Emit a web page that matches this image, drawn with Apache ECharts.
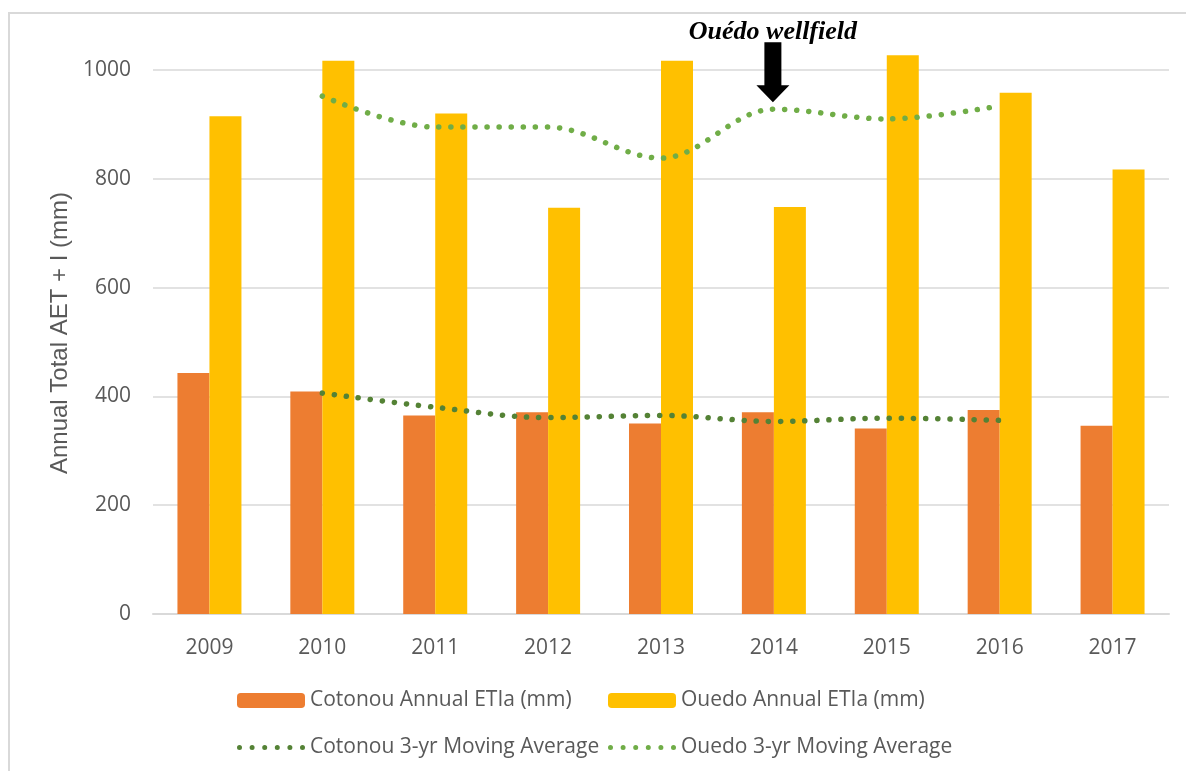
<!DOCTYPE html>
<html>
<head>
<meta charset="utf-8">
<script src="https://cdn.jsdelivr.net/npm/echarts@6/dist/echarts.min.js"></script>
<style>
    html, body { margin: 0; padding: 0; background: #fff; }
    #chart { width: 1186px; height: 771px; }
</style>
</head>
<body>
<div id="chart"></div>
<script type="text/javascript">
    // 数据
    var years = ['2009', '2010', '2011', '2012', '2013', '2014', '2015', '2016', '2017'];
    var cotonouEt = [443, 409, 365, 371, 350, 371, 341, 375, 346];
    var ouedoEt = [915, 1017, 920, 747, 1017, 748, 1027, 958, 817];
    var cotonouAvg = ['-', 406, 380, 361, 365, 354, 360, 356, '-'];
    var ouedoAvg = ['-', 952, 895, 895, 838, 928, 910, 934, '-'];
    var yTicks = [0, 200, 400, 600, 800, 1000];

    var names = ['Cotonou Annual ETIa (mm)', 'Ouedo Annual ETIa (mm)',
        'Cotonou 3-yr Moving Average', 'Ouedo 3-yr Moving Average'];
    var gray = '#595959';
    var dots = {type: [0.1, 12], cap: 'round', width: 5.5};

    // 图例里的点线图标
    var dotIcon = 'path://';
    for (var i = 0; i < 6; i++) {
        var cx = 2.5 + 12.6 * i;
        dotIcon += 'M' + (cx - 2.5) + ',7.5 a2.5,2.5 0 1,0 5,0 a2.5,2.5 0 1,0 -5,0 ';
    }

    function oneLegend(name, left, top, icon) {
        var item = {name: name};
        if (icon) item.icon = icon;
        return {
            data: [item], left: left, top: top, padding: 0,
            itemWidth: 68, itemHeight: 15, itemTextGap: 7,
            selectedMode: false,
            textStyle: {fontFamily: 'Open Sans', fontSize: 21, color: gray}
        };
    }

    var myChart = echarts.init(document.getElementById('chart'));
    var option = {
        animation: false,
        textStyle: {fontFamily: 'Open Sans'},
        graphic: [{
            type: 'rect', silent: true,
            shape: {x: 9, y: 13, width: 1200, height: 800},
            style: {fill: 'none', stroke: '#d9d9d9', lineWidth: 2}
        }],
        grid: {left: 153, right: 17, top: 70, bottom: 157},
        legend: [
            oneLegend(names[0], 237, 690),
            oneLegend(names[1], 608, 690),
            oneLegend(names[2], 237, 737, dotIcon),
            oneLegend(names[3], 608, 737, dotIcon)
        ],
        xAxis: {
            type: 'category',
            data: years,
            axisLine: {lineStyle: {color: '#d9d9d9', width: 2}},
            axisTick: {show: false},
            axisLabel: {color: gray, fontSize: 21, margin: 24}
        },
        yAxis: {
            type: 'value',
            min: yTicks[0],
            max: yTicks[yTicks.length - 1],
            interval: 200,
            name: 'Annual Total AET + I (mm)',
            nameLocation: 'middle',
            nameGap: 67,
            nameTextStyle: {fontFamily: 'Liberation Sans', fontSize: 24, color: gray, padding: [0, 0, 0, 18]},
            axisLine: {show: false},
            axisTick: {show: false},
            axisLabel: {color: gray, fontSize: 21, margin: 22, formatter: function (v) { return String(v); }},
            splitLine: {lineStyle: {color: '#d9d9d9', width: 1.5}}
        },
        series: [
            {
                name: names[0], type: 'bar', data: cotonouEt,
                barWidth: 32, barGap: '0%', clip: false,
                itemStyle: {color: '#ED7D31'}
            },
            {
                name: names[1], type: 'bar', data: ouedoEt,
                barWidth: 32, barGap: '0%', clip: false,
                itemStyle: {color: '#FFC000'}
            },
            {
                name: names[2], type: 'line', data: cotonouAvg,
                smooth: 0.35, symbol: 'none', itemStyle: {color: '#548235'},
                lineStyle: Object.assign({color: '#548235'}, dots)
            },
            {
                name: names[3], type: 'line', data: ouedoAvg,
                smooth: 0.35, symbol: 'none', itemStyle: {color: '#70AD47'},
                lineStyle: Object.assign({color: '#70AD47'}, dots),
                markPoint: {
                    silent: true,
                    symbol: 'path://M8,0 L25,0 L25,43 L33,43 L16.5,60 L0,43 L8,43 Z',
                    symbolSize: [33, 60],
                    symbolOffset: [-1, -37],
                    itemStyle: {color: '#000'},
                    label: {
                        show: true, position: 'top', distance: -3,
                        formatter: 'Ouédo wellfield',
                        fontFamily: 'Liberation Serif', fontStyle: 'italic',
                        fontWeight: 'bold', fontSize: 26, color: '#000'
                    },
                    data: [{coord: ['2014', 928]}]
                }
            }
        ]
    };
    myChart.setOption(option, true);
</script>
</body>
</html>
